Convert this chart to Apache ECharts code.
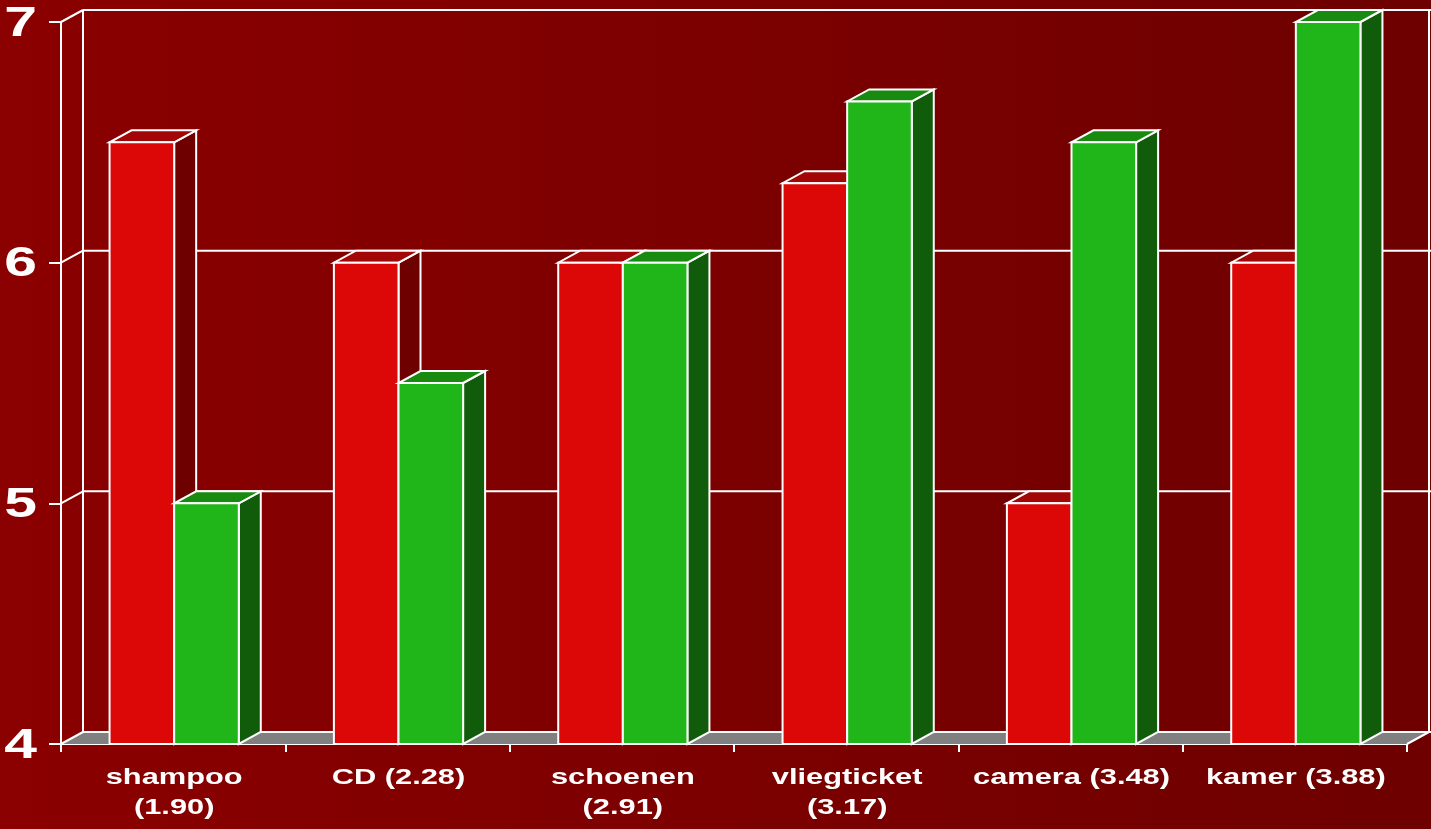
<!DOCTYPE html>
<html>
<head>
<meta charset="utf-8">
<script src="https://cdn.jsdelivr.net/npm/echarts@6/dist/echarts.min.js"></script>
<style>
html,body{margin:0;padding:0;width:1431px;height:829px;overflow:hidden;}
#chart{width:1431px;height:829px;}
</style>
</head>
<body>
<div id="chart"></div>
<script>
const categories = ['shampoo\n(1.90)', 'CD (2.28)', 'schoenen\n(2.91)', 'vliegticket\n(3.17)', 'camera (3.48)', 'kamer (3.88)'];
const redValues = [6.5, 6.0, 6.0, 6.33, 5.0, 6.0];
const greenValues = [5.0, 5.5, 6.0, 6.67, 6.5, 7.0];
const yTicks = [4, 5, 6, 7];

const DX = 22, DY = -12;
const FONT = '"Liberation Sans", Arial, Helvetica, sans-serif';
const BAR_FRAC = 0.288;
const STRETCH = 1.4;

const chart = echarts.init(document.getElementById('chart'));

function frameRender(params, api) {
  const band = api.size([1, 0])[0];
  const n = categories.length;
  const xl = api.coord([0, yTicks[0]])[0] - band / 2;
  const xr = api.coord([n - 1, yTicks[0]])[0] + band / 2;
  const yb = api.coord([0, yTicks[0]])[1];
  const yt = api.coord([0, yTicks[yTicks.length - 1]])[1];
  const ls = { stroke: '#ffffff', lineWidth: 2 };
  const children = [];
  children.push({ type: 'polygon', shape: { points: [[xl, yb], [xr, yb], [xr + DX, yb + DY], [xl + DX, yb + DY]] }, style: { fill: '#808080' } });
  yTicks.forEach(v => {
    const y = api.coord([0, v])[1];
    children.push({ type: 'line', shape: { x1: xl + DX, y1: y + DY, x2: xr + DX + 2, y2: y + DY }, style: ls });
    children.push({ type: 'line', shape: { x1: xl, y1: y, x2: xl + DX, y2: y + DY }, style: ls });
  });
  children.push({ type: 'line', shape: { x1: xl + DX, y1: yt + DY, x2: xl + DX, y2: yb + DY }, style: ls });
  children.push({ type: 'line', shape: { x1: xr + DX, y1: yt + DY, x2: xr + DX, y2: yb + DY }, style: ls });
  children.push({ type: 'line', shape: { x1: xr, y1: yb, x2: xr + DX, y2: yb + DY }, style: ls });
  return { type: 'group', children: children };
}

function makeBarRender(offsetIdx, colors) {
  return function (params, api) {
    const idx = api.value(0);
    const val = api.value(1);
    const band = api.size([1, 0])[0];
    const bw = band * BAR_FRAC;
    const top = api.coord([idx, val]);
    const base = api.coord([idx, yTicks[0]]);
    const x0 = top[0] + 1 + (offsetIdx === 0 ? -bw : 0);
    const yt = top[1], yb = base[1];
    const st = { stroke: '#ffffff', lineWidth: 2, lineJoin: 'miter' };
    return {
      type: 'group',
      children: [
        { type: 'polygon', shape: { points: [[x0 + bw, yt], [x0 + bw + DX, yt + DY], [x0 + bw + DX, yb + DY], [x0 + bw, yb]] }, style: Object.assign({ fill: colors[2] }, st) },
        { type: 'polygon', shape: { points: [[x0, yt], [x0 + bw, yt], [x0 + bw + DX, yt + DY], [x0 + DX, yt + DY]] }, style: Object.assign({ fill: colors[1] }, st) },
        { type: 'rect', shape: { x: x0, y: yt, width: bw, height: yb - yt }, style: Object.assign({ fill: colors[0] }, st) }
      ]
    };
  };
}

function labelRender(params, api) {
  const idx = api.value(0);
  const pt = api.coord([idx, yTicks[0]]);
  return {
    type: 'text',
    x: pt[0] + 1, y: pt[1] + 19,
    scaleX: STRETCH, originX: 0, originY: 0,
    style: {
      text: categories[idx],
      fill: '#ffffff',
      fontSize: 22, fontWeight: 'bold', fontFamily: FONT,
      align: 'center', verticalAlign: 'top', lineHeight: 30
    }
  };
}

function yLabelRender(params, api) {
  const v = api.value(1);
  const band = api.size([1, 0])[0];
  const pt = api.coord([0, v]);
  const xl = pt[0] - band / 2;
  return {
    type: 'text',
    x: xl - 24, y: pt[1] + 2,
    scaleX: STRETCH, originX: 0, originY: 0,
    style: {
      text: String(v),
      fill: '#ffffff',
      fontSize: 42, fontWeight: 'bold', fontFamily: FONT,
      align: 'right', verticalAlign: 'middle'
    }
  };
}

const option = {
  animation: false,
  backgroundColor: { type: 'linear', x: 0, y: 0, x2: 1, y2: 0, colorStops: [{ offset: 0, color: '#8b0000' }, { offset: 1, color: '#6e0000' }] },
  grid: { left: 61, right: 24, top: 22, bottom: 85, containLabel: false },
  xAxis: {
    type: 'category', data: categories, boundaryGap: true,
    axisLine: { show: true, lineStyle: { color: '#ffffff', width: 2 } },
    axisTick: { show: true, length: 8, lineStyle: { color: '#ffffff', width: 2 } },
    axisLabel: { show: false },
    splitLine: { show: false }
  },
  yAxis: {
    type: 'value', min: yTicks[0], max: yTicks[yTicks.length - 1], interval: 1,
    axisLine: { show: true, lineStyle: { color: '#ffffff', width: 2 } },
    axisTick: { show: true, length: 12, lineStyle: { color: '#ffffff', width: 2 } },
    axisLabel: { show: false },
    splitLine: { show: false }
  },
  series: [
    { type: 'custom', z: 1, clip: false, renderItem: frameRender, data: [[0, yTicks[0]]], silent: true },
    { type: 'custom', z: 3, clip: false, renderItem: makeBarRender(0, ['#dc0808', '#a20606', '#6e0000']), data: redValues.map((v, i) => [i, v]) },
    { type: 'custom', z: 4, clip: false, renderItem: makeBarRender(1, ['#20b519', '#198a10', '#115c0b']), data: greenValues.map((v, i) => [i, v]) },
    { type: 'custom', z: 5, clip: false, renderItem: labelRender, data: categories.map((c, i) => [i, yTicks[0]]), silent: true },
    { type: 'custom', z: 5, clip: false, renderItem: yLabelRender, data: yTicks.map(v => [0, v]), silent: true }
  ]
};
chart.setOption(option);
</script>
</body>
</html>
